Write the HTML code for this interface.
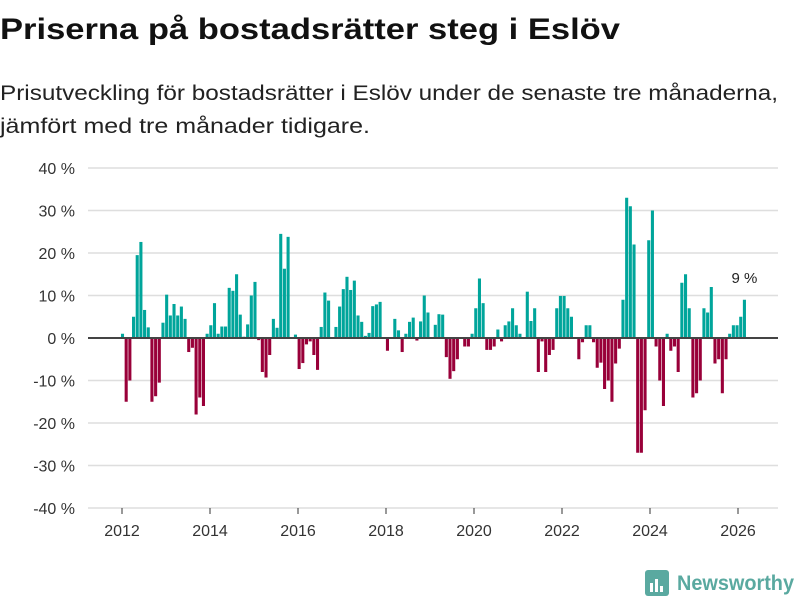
<!DOCTYPE html>
<html><head><meta charset="utf-8"><style>
html,body{margin:0;padding:0;background:#fff;}
svg{display:block;font-family:"Liberation Sans","DejaVu Sans",sans-serif;}
</style></head><body>
<svg id="chart" width="800" height="600" viewBox="0 0 800 600">
<text x="0" y="39" font-size="30" font-weight="bold" fill="#111" textLength="620" lengthAdjust="spacingAndGlyphs">Priserna på bostadsrätter steg i Eslöv</text>
<text x="0" y="100" font-size="21" fill="#222" textLength="778" lengthAdjust="spacingAndGlyphs">Prisutveckling för bostadsrätter i Eslöv under de senaste tre månaderna,</text>
<text x="0" y="133" font-size="21" fill="#222" textLength="370" lengthAdjust="spacingAndGlyphs">jämfört med tre månader tidigare.</text>
<g id="grid"></g><g id="bars"></g><g id="axes"></g>
<g>
<rect x="645" y="570" width="24" height="26" rx="3" fill="#5aa9a0"/>
<rect x="650" y="583" width="3" height="9" fill="#fff"/><rect x="655" y="579" width="3" height="13" fill="#fff"/><rect x="660" y="586" width="3" height="6" fill="#fff"/>
<text x="677" y="590" font-size="21" font-weight="bold" fill="#5aa9a0" textLength="117" lengthAdjust="spacingAndGlyphs">Newsworthy</text>
</g>
</svg>
<script>
const startYear = 2012;
const values = [1,-15,-10,5,19.5,22.6,6.6,2.5,-15,-13.7,-10.5,3.6,10.2,5.3,8,5.3,7.4,4.5,-3.3,-2.3,-18,-14,-16,1,3,8.2,1,2.7,2.7,11.8,11.1,15,5.5,0.3,3.2,10,13.2,-0.5,-8,-9.3,
-4,4.5,2.4,24.5,16.3,23.8,0.2,0.8,-7.3,-5.9,-1.5,-0.8,-4,-7.5,2.6,10.7,8.8,0,2.6,7.4,11.5,14.4,11.3,13.5,5.3,3.8,0.5,1.2,7.5,7.9,8.5,0,-3,0,4.5,1.8,-3.3,1,3.8,4.8,-0.6,
3.9,10,6,0,3.1,5.6,5.5,-4.5,-9.6,-7.8,-5,0,-2,-2,1,7,14,8.2,-2.8,-2.8,-2,2,-0.8,3,3.9,7,3,1,0,10.9,4,7,-8,-0.8,-8,-4,-2.8,7,9.9,9.9,7,5,0,
-5,-1,3,3,-1,-7,-5.8,-12,-10,-15,-6,-2.5,9,33,31,22,-27,-27,-17,23,30,-2,-10,-16,1,-3,-2,-8,13,15,7,-14,-13,-10,7,6,12,-6,-5,-13,-5,1,3,3,5,9];
const yTicks = [40,30,20,10,0,-10,-20,-30,-40];
const xTickYears = [2012,2014,2016,2018,2020,2022,2024,2026];
const lastLabel = "9 %";

const NS="http://www.w3.org/2000/svg";
function y(v){return 338 - v*4.25;}
function x(i){return 122.5 + i*3.68;}
function mk(tag,attrs,parent){const e=document.createElementNS(NS,tag);for(const k in attrs)e.setAttribute(k,attrs[k]);parent.appendChild(e);return e;}
const grid=document.getElementById('grid'),bars=document.getElementById('bars'),axes=document.getElementById('axes');
yTicks.forEach(t=>{
  if(t!==0){const l=mk('line',{x1:88,x2:778,y1:y(t),y2:y(t),stroke:'#dedede','stroke-width':1.5},grid);
  
  }
  const tx=mk('text',{x:75,y:y(t)+6,'font-size':16,fill:'#333','text-anchor':'end'},axes);
  tx.textContent=t+' %';
  
  
});
xTickYears.forEach(yr=>{
  const xi=122+(yr-startYear)*44;
  const tk=mk('line',{x1:xi,x2:xi,y1:508,y2:514,stroke:'#333','stroke-width':1},axes);
  
  
  const tx=mk('text',{x:xi,y:536,'font-size':16,fill:'#333','text-anchor':'middle'},axes);
  tx.textContent=yr;
  
  
});
const w=3.68;
values.forEach((v,i)=>{
  const top=Math.min(y(v),y(0)),h=Math.abs(y(v)-y(0));
  const r=mk('rect',{x:x(i)-w/2+0.3,y:top,width:w-0.6,height:h,fill:v>=0?'#00a59b':'#990039'},bars);
  
  
});
const z=mk('line',{x1:88,x2:778,y1:y(0),y2:y(0),stroke:'#444','stroke-width':2},axes);


const li=values.length-1;
const an=mk('text',{x:x(li),y:y(values[li])-17,'font-size':15,fill:'#222','text-anchor':'middle'},axes);
an.textContent=lastLabel;


</script>
</body></html>
